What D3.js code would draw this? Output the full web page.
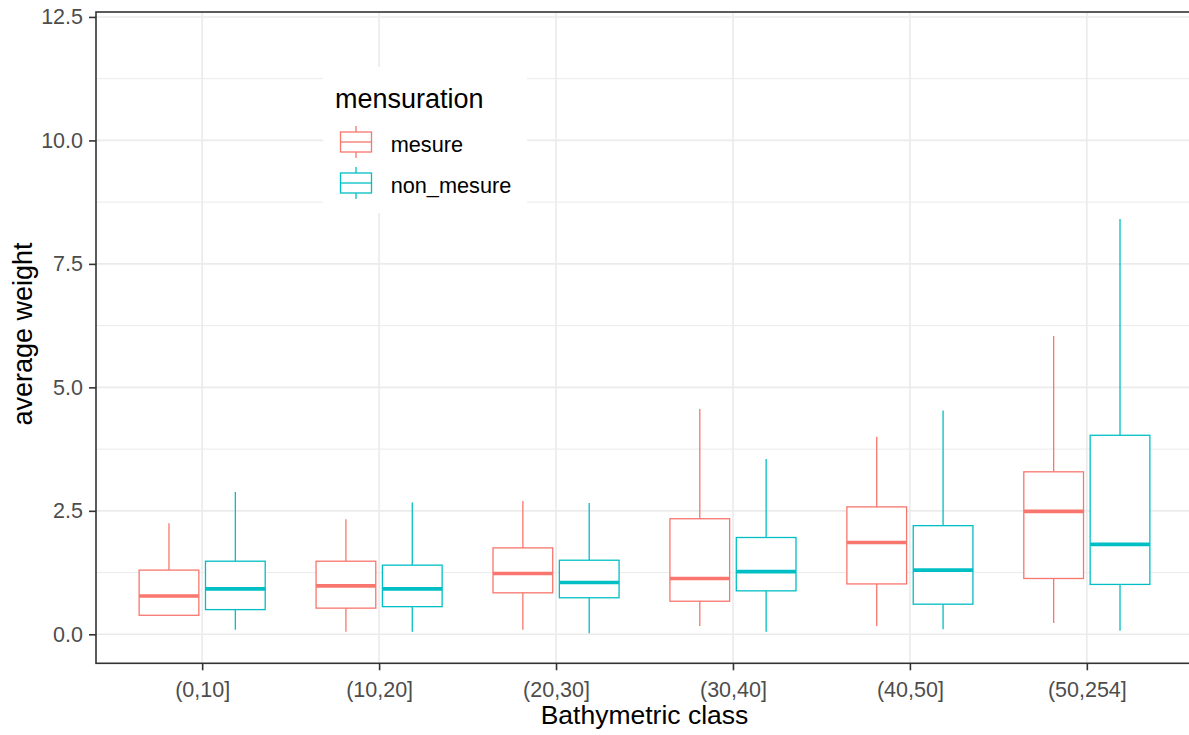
<!DOCTYPE html>
<html>
<head>
<meta charset="utf-8">
<script src="https://cdn.jsdelivr.net/npm/d3@7"></script>
<style>
  html, body { margin: 0; padding: 0; background: #fff; }
  svg { display: block; }
  text { font-family: "Liberation Sans", Arial, sans-serif; }
</style>
</head>
<body>
<svg id="chart" width="1189" height="735"></svg>
<script>
// ---- data ----
const categories = ["(0,10]", "(10,20]", "(20,30]", "(30,40]", "(40,50]", "(50,254]"];
const groups = ["mesure", "non_mesure"];
const groupColors = ["#F8766D", "#00BFC4"];

const mesureMin    = [0.38, 0.05, 0.09, 0.17, 0.17, 0.23];
const mesureQ1     = [0.385, 0.53, 0.84, 0.67, 1.02, 1.13];
const mesureMedian = [0.775, 0.98, 1.23, 1.13, 1.86, 2.49];
const mesureQ3     = [1.30, 1.48, 1.75, 2.34, 2.58, 3.29];
const mesureMax    = [2.25, 2.33, 2.70, 4.56, 4.00, 6.04];

const nonMesureMin    = [0.09, 0.05, 0.02, 0.05, 0.10, 0.07];
const nonMesureQ1     = [0.50, 0.56, 0.74, 0.88, 0.61, 1.01];
const nonMesureMedian = [0.92, 0.92, 1.05, 1.27, 1.30, 1.82];
const nonMesureQ3     = [1.48, 1.40, 1.50, 1.96, 2.20, 4.03];
const nonMesureMax    = [2.88, 2.67, 2.66, 3.55, 4.53, 8.41];

const yTicks = [0, 2.5, 5, 7.5, 10, 12.5];
const yMinorTicks = [1.25, 3.75, 6.25, 8.75, 11.25];
const yDomain = [-0.587, 12.6];

const xTitle = "Bathymetric class";
const yTitle = "average weight";
const legendTitle = "mensuration";

// ---- build records ----
const stats = {
  mesure: {min: mesureMin, q1: mesureQ1, med: mesureMedian, q3: mesureQ3, max: mesureMax},
  non_mesure: {min: nonMesureMin, q1: nonMesureQ1, med: nonMesureMedian, q3: nonMesureQ3, max: nonMesureMax}
};
const boxes = [];
categories.forEach((c, i) => {
  groups.forEach((g, j) => {
    const s = stats[g];
    boxes.push({cat: c, group: g, color: groupColors[j],
      min: s.min[i], q1: s.q1[i], med: s.med[i], q3: s.q3[i], max: s.max[i]});
  });
});

// ---- layout ----
const svg = d3.select("#chart");
const panel = {left: 96, right: 1193, top: 12, bottom: 663.3};

const x = d3.scalePoint().domain(categories).range([panel.left, panel.right]).padding(0.6);
const step = x.step();
const dodge = d3.scaleBand().domain(groups).range([-0.375 * step, 0.375 * step]);
const boxW = dodge.bandwidth() * 0.9;
const y = d3.scaleLinear().domain(yDomain).range([panel.bottom, panel.top]);
const color = d3.scaleOrdinal().domain(groups).range(groupColors);

const font = "\"Liberation Sans\", Arial, sans-serif";

// grid
const grid = svg.append("g");
grid.selectAll("line.minor").data(yMinorTicks).join("line")
  .attr("x1", panel.left).attr("x2", panel.right)
  .attr("y1", d => y(d)).attr("y2", d => y(d))
  .attr("stroke", "#EBEBEB").attr("stroke-width", 1);
grid.selectAll("line.majory").data(yTicks).join("line")
  .attr("x1", panel.left).attr("x2", panel.right)
  .attr("y1", d => y(d)).attr("y2", d => y(d))
  .attr("stroke", "#EBEBEB").attr("stroke-width", 1.6);
grid.selectAll("line.majorx").data(categories).join("line")
  .attr("x1", d => x(d)).attr("x2", d => x(d))
  .attr("y1", panel.top).attr("y2", panel.bottom)
  .attr("stroke", "#EBEBEB").attr("stroke-width", 1.6);

// boxes
const bg = svg.append("g").selectAll("g").data(boxes).join("g")
  .attr("transform", d => `translate(${x(d.cat) + dodge(d.group) + dodge.bandwidth() / 2},0)`);
bg.append("line").attr("x1", 0).attr("x2", 0)
  .attr("y1", d => y(d.q3)).attr("y2", d => y(d.max))
  .attr("stroke", d => color(d.group)).attr("stroke-width", 1.3);
bg.append("line").attr("x1", 0).attr("x2", 0)
  .attr("y1", d => y(d.q1)).attr("y2", d => y(d.min))
  .attr("stroke", d => color(d.group)).attr("stroke-width", 1.3);
bg.append("rect")
  .attr("x", -boxW / 2).attr("width", boxW)
  .attr("y", d => y(d.q3)).attr("height", d => y(d.q1) - y(d.q3))
  .attr("fill", "#fff").attr("stroke", d => color(d.group)).attr("stroke-width", 1.3);
bg.append("line").attr("x1", -boxW / 2).attr("x2", boxW / 2)
  .attr("y1", d => y(d.med)).attr("y2", d => y(d.med))
  .attr("stroke", d => color(d.group)).attr("stroke-width", 3.6);

// panel border
svg.append("rect")
  .attr("x", panel.left).attr("y", panel.top)
  .attr("width", panel.right - panel.left).attr("height", panel.bottom - panel.top)
  .attr("fill", "none").attr("stroke", "#333333").attr("stroke-width", 1.6);

// y axis
const yAxis = d3.axisLeft(y).tickValues(yTicks).tickFormat(d3.format(".1f")).tickSize(7).tickPadding(6);
const ya = svg.append("g").attr("transform", `translate(${panel.left},0)`).call(yAxis);
ya.select(".domain").remove();
ya.selectAll(".tick line").attr("stroke", "#333333").attr("stroke-width", 1.6);
ya.selectAll(".tick text").attr("fill", "#4D4D4D").style("font-size", "21.5px").style("font-family", font);

// x axis
const xAxis = d3.axisBottom(x).tickSize(7).tickPadding(6);
const xa = svg.append("g").attr("transform", `translate(0,${panel.bottom})`).call(xAxis);
xa.select(".domain").remove();
xa.selectAll(".tick line").attr("stroke", "#333333").attr("stroke-width", 1.6);
xa.selectAll(".tick text").attr("fill", "#4D4D4D").style("font-size", "21.5px").style("font-family", font)
  .attr("dy", null).attr("y", 33.4);

// titles
svg.append("text").attr("x", (panel.left + panel.right) / 2).attr("y", 724.3)
  .attr("text-anchor", "middle").style("font-size", "26.5px").attr("fill", "#000").text(xTitle);
svg.append("text").attr("transform", "translate(32,334) rotate(-90)")
  .attr("text-anchor", "middle").style("font-size", "27px").attr("fill", "#000").text(yTitle);

// legend
const lg = svg.append("g");
lg.append("rect").attr("x", 323).attr("y", 67).attr("width", 204).attr("height", 146).attr("fill", "#fff");
lg.append("text").attr("x", 335).attr("y", 108.3).style("font-size", "27px").attr("fill", "#000").text(legendTitle);
const keys = lg.selectAll("g.key").data(groups).join("g")
  .attr("transform", (d, i) => `translate(356,${142 + i * 41})`);
keys.append("line").attr("x1", 0).attr("x2", 0).attr("y1", -16).attr("y2", 16)
  .attr("stroke", d => color(d)).attr("stroke-width", 1.3);
keys.append("rect").attr("x", -15.5).attr("y", -10).attr("width", 31).attr("height", 20)
  .attr("fill", "#fff").attr("stroke", d => color(d)).attr("stroke-width", 1.3);
keys.append("line").attr("x1", -15.5).attr("x2", 15.5).attr("y1", 0).attr("y2", 0)
  .attr("stroke", d => color(d)).attr("stroke-width", 1.3);
keys.append("text").attr("x", 34.7).attr("y", 9.8).style("font-size", "21.7px").attr("fill", "#000").text(d => d);
</script>
</body>
</html>
